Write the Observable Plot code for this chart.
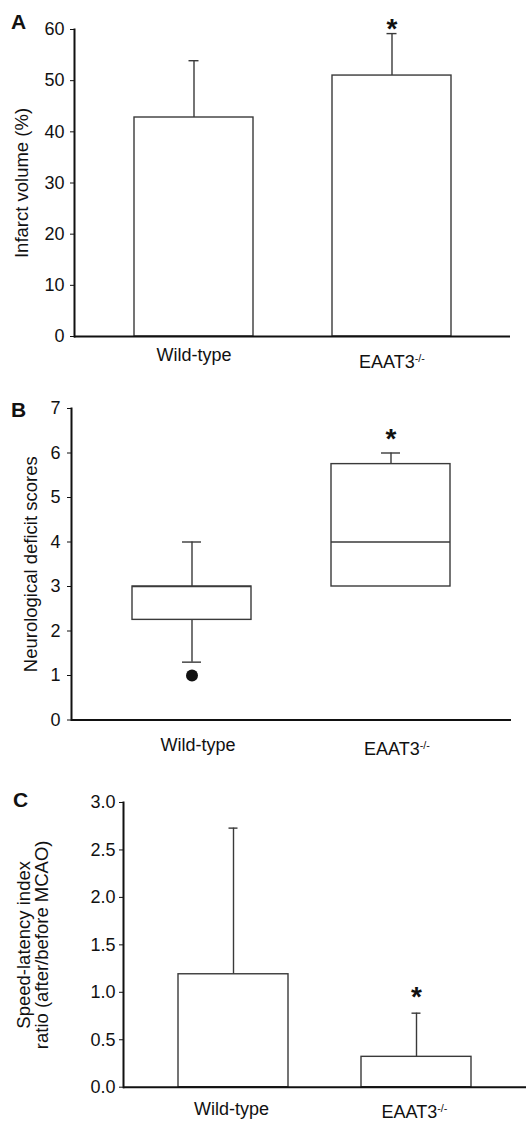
<!DOCTYPE html>
<html>
<head>
<meta charset="utf-8">
<script src="https://cdn.jsdelivr.net/npm/d3@7"></script>
<script src="https://cdn.jsdelivr.net/npm/@observablehq/plot@0.6"></script>
<style>
  html, body { margin: 0; padding: 0; background: #fff; }
  #chart { width: 530px; }
  #chart svg { display: block; }
</style>
</head>
<body>
<div id="chart"></div>
<script>
// ---------- data ----------
const groups = ["Wild-type", "EAAT3-/-"];
const supSuffix = "-/-";

// Panel A: infarct volume (%), mean and SD
const infarctMean = [42.8, 51.0];
const infarctSD = [11.1, 8.2];
const infarctTicks = [0, 10, 20, 30, 40, 50, 60];
const infarctStars = [{group: "EAAT3-/-", y: 60.1}];

// Panel B: neurological deficit scores (box plot summaries)
const scoreQ1 = [2.25, 3];
const scoreMedian = [3, 4];
const scoreQ3 = [3, 5.75];
const scoreLow = [1.3, 3];
const scoreHigh = [4, 6];
const scoreOutliers = [{group: "Wild-type", value: 1}];
const scoreTicks = [0, 1, 2, 3, 4, 5, 6, 7];
const scoreStars = [{group: "EAAT3-/-", y: 6.31}];

// Panel C: speed-latency index ratio, mean and SD
const ratioMean = [1.19, 0.32];
const ratioSD = [1.54, 0.46];
const ratioTicks = [0, 0.5, 1, 1.5, 2, 2.5, 3];
const ratioStars = [{group: "EAAT3-/-", y: 0.95}];

// ---------- helpers ----------
const dataA = groups.map((g, i) => ({group: g, mean: infarctMean[i], sd: infarctSD[i]}));
const dataB = groups.map((g, i) => ({group: g, q1: scoreQ1[i], med: scoreMedian[i], q3: scoreQ3[i], lo: scoreLow[i], hi: scoreHigh[i]}));
const dataC = groups.map((g, i) => ({group: g, mean: ratioMean[i], sd: ratioSD[i]}));

const FONT = "'Liberation Sans', Arial, Helvetica, sans-serif";
const INK = "#111";
const BARSTROKE = "#3a3a3a";
const style = {fontFamily: FONT, fontSize: "18px", color: INK, background: "white", overflow: "visible"};

function superscript(svg) {
  svg.querySelectorAll("text, tspan").forEach(el => {
    if (el.children.length === 0 && el.textContent === groups[1]) {
      el.textContent = groups[1].slice(0, groups[1].length - supSuffix.length);
      const t = document.createElementNS("http://www.w3.org/2000/svg", "tspan");
      t.setAttribute("dy", "-0.55em");
      t.setAttribute("font-size", "0.6em");
      t.textContent = supSuffix;
      el.appendChild(t);
    }
  });
  return svg;
}

function xAxes(pad, dyWT, dyKO, dxAll) {
  return [
    Plot.axisX({ticks: [groups[0]], tickSize: 0, tickPadding: pad, dy: dyWT, dx: dxAll, label: null, fontSize: 18}),
    Plot.axisX({ticks: [groups[1]], tickSize: 0, tickPadding: pad, dy: dyKO, dx: dxAll, label: null, fontSize: 18})
  ];
}

function yLabel(text, dx, extra = {}) {
  return Plot.text([text], {frameAnchor: "left", textAnchor: "middle", lineAnchor: "middle", dx, rotate: -90, fontSize: 18.5, fill: INK, ...extra});
}
function panelLetter(letter, dx, dy) {
  return Plot.text([letter], {frameAnchor: "top-left", textAnchor: "middle", lineAnchor: "middle", dx, dy, fontSize: 21, fontWeight: "bold", fill: INK});
}
const star = (data) => Plot.text(data, {x: "group", y: "y", text: () => "*", fontSize: 28, fontWeight: "bold", fill: INK});

// ---------- Panel A ----------
const plotA = Plot.plot({
  width: 530, height: 375,
  marginLeft: 74, marginRight: 20, marginTop: 29, marginBottom: 39,
  style,
  x: {domain: groups, paddingInner: 0.4, paddingOuter: 0.3, label: null},
  y: {domain: [0, 60], label: null},
  marks: [
    Plot.ruleX(dataA, {x: "group", y1: "mean", y2: d => d.mean + d.sd, stroke: BARSTROKE, strokeWidth: 1.4}),
    Plot.tickY(dataA, {x: "group", y: d => d.mean + d.sd, insetLeft: 54.5, insetRight: 54.5, stroke: BARSTROKE, strokeWidth: 1.4}),
    Plot.barY(dataA, {x: "group", y: "mean", fill: "white", stroke: BARSTROKE, strokeWidth: 1.4}),
    Plot.frame({anchor: "left", stroke: INK, strokeWidth: 2}),
    Plot.ruleY([0], {stroke: INK, strokeWidth: 2}),
    star(infarctStars),
    Plot.axisY({ticks: infarctTicks, tickFormat: d3.format("d"), tickSize: 4, tickPadding: 6, label: null, fontSize: 18}),
    ...xAxes(12, 0, 7, 0),
    yLabel("Infarct volume (%)", -52),
    panelLetter("A", -56, -7.5)
  ]
});

// ---------- Panel B ----------
const plotB = Plot.plot({
  width: 530, height: 385,
  marginLeft: 71, marginRight: 19, marginTop: 33, marginBottom: 40.5,
  style,
  x: {domain: groups, paddingInner: 0.4, paddingOuter: 0.3, label: null},
  y: {domain: [0, 7], label: null},
  marks: [
    Plot.ruleX(dataB, {x: "group", y1: "q3", y2: "hi", stroke: BARSTROKE, strokeWidth: 1.4}),
    Plot.ruleX(dataB, {x: "group", y1: "lo", y2: "q1", stroke: BARSTROKE, strokeWidth: 1.4}),
    Plot.tickY(dataB.filter(d => d.hi > d.q3), {x: "group", y: "hi", insetLeft: 50, insetRight: 50, stroke: BARSTROKE, strokeWidth: 1.4}),
    Plot.tickY(dataB.filter(d => d.lo < d.q1), {x: "group", y: "lo", insetLeft: 50, insetRight: 50, stroke: BARSTROKE, strokeWidth: 1.4}),
    Plot.barY(dataB, {x: "group", y1: "q1", y2: "q3", fill: "white", stroke: BARSTROKE, strokeWidth: 1.4}),
    Plot.tickY(dataB, {x: "group", y: "med", stroke: BARSTROKE, strokeWidth: 1.4}),
    Plot.dot(scoreOutliers, {x: "group", y: "value", r: 6, fill: INK, stroke: "none"}),
    Plot.frame({anchor: "left", stroke: INK, strokeWidth: 2}),
    Plot.ruleY([0], {stroke: INK, strokeWidth: 2}),
    star(scoreStars),
    Plot.axisY({ticks: scoreTicks, tickFormat: d3.format("d"), tickSize: 4, tickPadding: 7, label: null, fontSize: 18}),
    ...xAxes(18.5, 0, 4, 6),
    yLabel("Neurological deficit scores", -40.5),
    panelLetter("B", -53, 2)
  ]
});

// ---------- Panel C ----------
const plotC = Plot.plot({
  width: 530, height: 361,
  marginLeft: 123, marginRight: 4, marginTop: 42, marginBottom: 34.3,
  style,
  x: {domain: groups, paddingInner: 0.4, paddingOuter: 0.3, label: null},
  y: {domain: [0, 3], label: null},
  marks: [
    Plot.ruleX(dataC, {x: "group", y1: "mean", y2: d => d.mean + d.sd, stroke: BARSTROKE, strokeWidth: 1.4}),
    Plot.tickY(dataC, {x: "group", y: d => d.mean + d.sd, insetLeft: 50.5, insetRight: 50.5, stroke: BARSTROKE, strokeWidth: 1.4}),
    Plot.barY(dataC, {x: "group", y: "mean", fill: "white", stroke: BARSTROKE, strokeWidth: 1.4}),
    Plot.frame({anchor: "left", stroke: INK, strokeWidth: 2}),
    Plot.ruleY([0], {stroke: INK, strokeWidth: 2}),
    star(ratioStars),
    Plot.axisY({ticks: ratioTicks, tickFormat: d3.format(".1f"), tickSize: 4, tickPadding: 4, label: null, fontSize: 18}),
    ...xAxes(15, 0, 3, -2),
    yLabel("Speed-latency index\nratio (after/before MCAO)", -90, {lineHeight: 0.95}),
    panelLetter("C", -103, -2)
  ]
});

const chart = document.getElementById("chart");
[plotA, plotB, plotC].forEach(p => chart.appendChild(superscript(p)));
</script>
</body>
</html>
